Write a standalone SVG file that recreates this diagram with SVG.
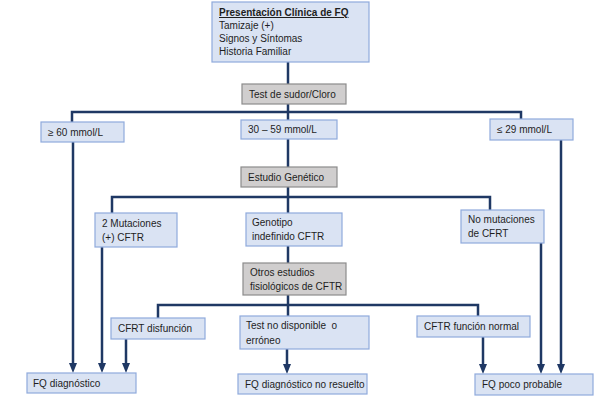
<svg xmlns="http://www.w3.org/2000/svg" width="614" height="401" viewBox="0 0 614 401">
<style>
.b{fill:#dae3f3;stroke:#8faadc;stroke-width:1.2}
.g{fill:#d0cece;stroke:#8c8c8c;stroke-width:1.2}
text{font-family:"Liberation Sans",Arial,sans-serif;font-size:10px;fill:#1e1e1e;white-space:pre}
.c{fill:none;stroke:#1f3864;stroke-width:2.5}
</style>
<defs>
<marker id="ah" markerWidth="4" markerHeight="4" refX="2" refY="2" orient="auto" markerUnits="strokeWidth">
<path d="M0,0.4 L4,2 L0,3.6 Z" fill="#1f3864"/>
</marker>
</defs>
<g id="connectors">
<path class="c" d="M288,62 V84"/>
<path class="c" d="M288,104 V120"/>
<path class="c" d="M72,122 V112 H521 V119"/>
<path class="c" d="M288,139 V167"/>
<path class="c" d="M288,187 V213"/>
<path class="c" d="M112,213 V197 H490 V210"/>
<path class="c" d="M288,246 V263"/>
<path class="c" d="M288,295 V316"/>
<path class="c" d="M158,318 V305 H478 V316"/>
<path class="c" d="M73,142 V368" marker-end="url(#ah)"/>
<path class="c" d="M102,247 V368" marker-end="url(#ah)"/>
<path class="c" d="M126,339 V368" marker-end="url(#ah)"/>
<path class="c" d="M287,349 V369" marker-end="url(#ah)"/>
<path class="c" d="M483,337 V369" marker-end="url(#ah)"/>
<path class="c" d="M541,243 V369" marker-end="url(#ah)"/>
<path class="c" d="M561,140 V369" marker-end="url(#ah)"/>
</g>
<g id="presentacion">
<rect class="b" x="212" y="2" width="157" height="60"/>
<text x="219" y="16" font-size="9.5" font-weight="bold" text-decoration="underline">Presentación Clínica de FQ</text>
<text x="219" y="29">Tamizaje (+)</text>
<text x="219" y="42">Signos y Síntomas</text>
<text x="219" y="55">Historia Familiar</text>
</g>
<g id="test-sudor">
<rect class="g" x="242" y="84" width="104" height="20"/>
<text x="249" y="98">Test de sudor/Cloro</text>
</g>
<g id="mayor60">
<rect class="b" x="41" y="122" width="83" height="20"/>
<text x="48" y="136">≥ 60 mmol/L</text>
</g>
<g id="rango30-59">
<rect class="b" x="241" y="120" width="96" height="19"/>
<text x="248" y="133">30 – 59 mmol/L</text>
</g>
<g id="menor29">
<rect class="b" x="490" y="119" width="83" height="21"/>
<text x="497" y="133">≤ 29 mmol/L</text>
</g>
<g id="estudio-genetico">
<rect class="g" x="241" y="167" width="96" height="20"/>
<text x="248" y="181">Estudio Genético</text>
</g>
<g id="dos-mutaciones">
<rect class="b" x="95" y="213" width="82" height="34"/>
<text x="102" y="227">2 Mutaciones</text>
<text x="102" y="241">(+) CFTR</text>
</g>
<g id="genotipo">
<rect class="b" x="246" y="213" width="96" height="33"/>
<text x="252" y="226">Genotipo</text>
<text x="252" y="240">indefinido CFTR</text>
</g>
<g id="no-mutaciones">
<rect class="b" x="461" y="210" width="83" height="33"/>
<text x="468" y="223">No mutaciones</text>
<text x="468" y="237">de CFRT</text>
</g>
<g id="otros-estudios">
<rect class="g" x="243" y="263" width="103" height="32"/>
<text x="250" y="276">Otros estudios</text>
<text x="250" y="290">fisiológicos de CFTR</text>
</g>
<g id="cfrt-disfuncion">
<rect class="b" x="111" y="318" width="94" height="21"/>
<text x="118" y="332">CFRT disfunción</text>
</g>
<g id="test-no-disponible">
<rect class="b" x="240" y="316" width="129" height="33"/>
<text x="246" y="329">Test no disponible  o</text>
<text x="246" y="344">erróneo</text>
</g>
<g id="cftr-normal">
<rect class="b" x="417" y="316" width="113" height="21"/>
<text x="424" y="330">CFTR función normal</text>
</g>
<g id="fq-diagnostico">
<rect class="b" x="27" y="373" width="109" height="20"/>
<text x="33" y="387">FQ diagnóstico</text>
</g>
<g id="fq-no-resuelto">
<rect class="b" x="238" y="374" width="129" height="20"/>
<text x="245" y="388">FQ diagnóstico no resuelto</text>
</g>
<g id="fq-poco-probable">
<rect class="b" x="475" y="374" width="118" height="21"/>
<text x="482" y="388">FQ poco probable</text>
</g>
</svg>
